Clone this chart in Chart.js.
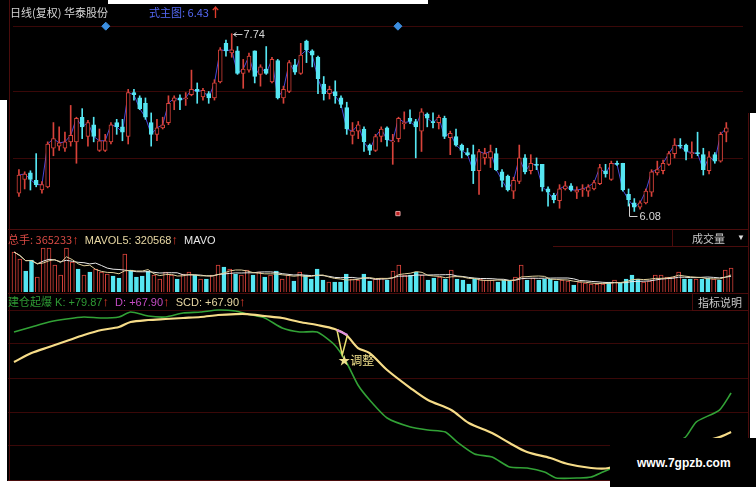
<!DOCTYPE html>
<html><head><meta charset="utf-8">
<script src="https://cdn.jsdelivr.net/npm/chart.js@4.4.1/dist/chart.umd.min.js"></script>
<style>
html,body{margin:0;padding:0;background:#000;}
#wrap{position:relative;width:756px;height:487px;background:#000;overflow:hidden;font-family:"Liberation Sans",Arial,sans-serif;font-size:11px;}
canvas{position:absolute;display:block;}
.t{position:absolute;white-space:nowrap;line-height:14px;font-size:11px;}
.cjk{font-family:"Noto Sans CJK SC","Liberation Sans",sans-serif;}
.ln{position:absolute;background:#4a0c0c;}
.wh{position:absolute;background:#fff;}
.up{color:#e03c2c;font-weight:bold;font-size:13px;}
</style></head><body>
<div id="wrap">
<canvas id="cPrice" width="740" height="228" style="left:8px;top:0px;width:740px;height:228px"></canvas>
<canvas id="cVol" width="740" height="62" style="left:8px;top:230px;width:740px;height:62px"></canvas>
<canvas id="cInd" width="740" height="185" style="left:8px;top:295px;width:740px;height:185px"></canvas>

<div class="ln" style="left:9px;top:0;width:1px;height:481px"></div>
<div class="ln" style="left:748px;top:113px;width:1px;height:368px"></div>
<div class="ln" style="left:8px;top:229px;width:741px;height:1px"></div>
<div class="ln" style="left:8px;top:293px;width:741px;height:1px"></div>
<div class="ln" style="left:553px;top:246px;width:195px;height:1px"></div>
<div class="ln" style="left:8px;top:480px;width:741px;height:1px"></div>

<div class="wh" style="left:108px;top:0;width:320px;height:4px"></div>
<div class="wh" style="left:0;top:100px;width:7px;height:387px"></div>
<div class="wh" style="left:750px;top:113px;width:6px;height:374px"></div>
<div class="wh" style="left:0;top:481px;width:756px;height:6px"></div>

<div class="t cjk" style="left:10px;top:5px;color:#d4d4d4">日线(复权) 华泰股份</div>
<div class="t cjk" style="left:149px;top:5px;color:#5468f4">式主图: 6.43<span class="up">↑</span></div>

<div class="t" style="left:8px;top:232px"><span class="cjk" style="color:#d84a44">总手: 365233</span><span class="up">↑</span>&nbsp;&nbsp;<span style="color:#e8d8a4">MAVOL5: 320568</span><span class="up">↑</span>&nbsp;&nbsp;<span style="color:#e8e8e8">MAVO</span></div>
<div style="position:absolute;left:672px;top:230px;width:76px;height:16px;border-left:1px solid #4a0c0c;"></div>
<div class="t cjk" style="left:692px;top:231px;color:#c8c8c8">成交量</div>
<div class="t" style="left:737px;top:231px;color:#ddd;font-size:8px">▼</div>

<div class="t" style="left:8px;top:294px"><span class="cjk" style="color:#2e9a34">建仓起爆</span> <span style="color:#2e9a34">K: +79.87</span><span class="up">↑</span>&nbsp;&nbsp;<span style="color:#c44cc4">D: +67.90</span><span class="up">↑</span>&nbsp;&nbsp;<span style="color:#e8d8a4">SCD: +67.90</span><span class="up">↑</span></div>
<div style="position:absolute;left:692px;top:294px;width:56px;height:16px;border-left:1px solid #4a0c0c;border-bottom:1px solid #4a0c0c;"></div>
<div class="t cjk" style="left:698px;top:295px;color:#c8c8c8">指标说明</div>

<div style="position:absolute;left:610px;top:438px;width:146px;height:49px;background:#000"></div>
<div class="t" style="left:637px;top:456px;color:#fff;font-weight:bold;font-size:12px">www.7gpzb.com</div>
</div>
<script>
// ---------- data ----------
const opens=[6.25,6.38,6.44,6.37,6.28,6.31,6.67,6.69,6.67,6.73,
6.73,6.96,6.78,6.89,6.65,6.65,6.73,6.91,6.87,6.78,
7.19,7.14,7.09,6.91,6.80,6.86,6.91,7.11,7.14,7.13,
7.17,7.22,7.15,7.18,7.14,7.29,7.65,7.56,7.58,7.37,
7.40,7.58,7.36,7.41,7.29,7.49,7.14,7.20,7.45,7.37,
7.67,7.58,7.52,7.27,7.18,7.20,7.14,7.05,6.79,6.83,
6.85,6.70,6.65,6.78,6.86,6.73,6.76,6.90,6.95,6.92,
6.83,6.99,6.92,6.91,6.95,6.77,6.78,6.70,6.63,6.61,
6.46,6.58,6.58,6.62,6.45,6.41,6.27,6.36,6.58,6.46,
6.52,6.52,6.29,6.23,6.18,6.29,6.32,6.26,6.28,6.27,
6.29,6.34,6.46,6.38,6.53,6.53,6.24,6.16,6.12,6.16,
6.26,6.44,6.46,6.52,6.62,6.70,6.70,6.62,6.63,6.61,
6.46,6.61,6.55,6.82];
const closes=[6.42,6.43,6.38,6.33,6.33,6.71,6.76,6.72,6.73,6.79,
6.95,6.87,6.91,6.78,6.74,6.74,6.89,6.87,6.82,7.19,
7.17,7.04,6.96,6.80,6.86,6.89,7.09,7.14,7.12,7.14,
7.22,7.20,7.21,7.14,7.28,7.59,7.58,7.59,7.37,7.41,
7.53,7.34,7.43,7.37,7.50,7.14,7.22,7.47,7.38,7.54,
7.59,7.54,7.32,7.18,7.22,7.16,7.08,6.85,6.83,6.89,
6.73,6.65,6.78,6.85,6.75,6.74,6.95,6.91,6.92,6.87,
7.01,6.95,6.91,6.96,6.78,6.81,6.70,6.65,6.61,6.46,
6.64,6.62,6.64,6.47,6.37,6.28,6.37,6.58,6.45,6.53,
6.51,6.31,6.26,6.19,6.29,6.32,6.28,6.28,6.29,6.31,
6.35,6.49,6.43,6.53,6.52,6.28,6.19,6.12,6.16,6.27,
6.45,6.47,6.53,6.62,6.70,6.69,6.64,6.63,6.62,6.47,
6.59,6.55,6.80,6.86];
const highs=[6.47,6.45,6.46,6.62,6.36,6.73,6.91,6.87,6.82,7.07,
6.96,7.04,6.93,6.96,6.85,6.80,6.91,6.94,6.94,7.22,
7.22,7.16,7.14,7.00,6.94,6.96,7.16,7.16,7.17,7.19,
7.40,7.28,7.23,7.20,7.31,7.61,7.68,7.74,7.62,7.50,
7.56,7.58,7.45,7.62,7.52,7.50,7.25,7.49,7.50,7.65,
7.68,7.59,7.53,7.34,7.25,7.30,7.16,7.10,6.91,6.92,
6.87,6.71,6.80,6.87,6.87,6.80,6.96,7.01,7.03,6.94,
7.04,7.00,7.00,6.98,6.97,6.83,6.85,6.71,6.67,6.70,
6.66,6.67,6.70,6.67,6.47,6.42,6.40,6.70,6.61,6.61,
6.58,6.52,6.31,6.25,6.33,6.36,6.34,6.31,6.33,6.33,
6.37,6.52,6.52,6.55,6.55,6.53,6.29,6.20,6.18,6.29,
6.47,6.55,6.56,6.64,6.76,6.76,6.71,6.73,6.82,6.67,
6.64,6.63,6.82,6.91];
const lows=[6.22,6.29,6.28,6.31,6.25,6.30,6.60,6.65,6.64,6.69,
6.53,6.76,6.69,6.73,6.64,6.64,6.71,6.80,6.74,6.71,
7.12,7.03,6.94,6.69,6.74,6.85,6.89,7.03,7.03,7.07,
7.16,7.09,7.12,7.09,7.12,7.28,7.53,7.52,7.36,7.23,
7.38,7.28,7.25,7.36,7.28,7.13,7.09,7.19,7.36,7.36,
7.47,7.43,7.18,7.12,7.13,7.09,7.05,6.80,6.71,6.76,
6.64,6.61,6.64,6.73,6.69,6.52,6.73,6.85,6.90,6.58,
6.64,6.87,6.86,6.85,6.76,6.61,6.69,6.58,6.60,6.34,
6.24,6.52,6.49,6.46,6.31,6.27,6.20,6.34,6.43,6.43,
6.47,6.27,6.13,6.16,6.11,6.28,6.27,6.20,6.22,6.22,
6.28,6.33,6.40,6.37,6.51,6.27,6.13,6.08,6.10,6.15,
6.22,6.42,6.43,6.51,6.58,6.67,6.56,6.58,6.60,6.42,
6.43,6.53,6.54,6.73];
const volumes=[608000,501600,319200,486400,228000,668800,668800,410400,258400,668800,
456000,349600,258400,304000,349600,304000,273600,243200,212800,577600,
334400,228000,243200,319200,258400,197600,304000,258400,197600,273600,
304000,258400,197600,197600,258400,410400,380000,349600,273600,258400,
334400,258400,304000,228000,258400,319200,197600,258400,167200,304000,
258400,197600,349600,182400,152000,152000,152000,273600,197600,182400,
273600,167200,197600,212800,182400,319200,410400,258400,258400,304000,
258400,182400,212800,228000,197600,334400,197600,182400,121600,197600,
197600,182400,182400,152000,182400,167200,228000,410400,182400,212800,
182400,197600,197600,167200,182400,167200,106400,152000,136800,121600,
121600,121600,152000,182400,136800,197600,258400,197600,152000,167200,
258400,258400,228000,228000,304000,197600,197600,197600,197600,212800,
197600,182400,334400,365233];
const signalIdx=[15.1,65.9];
const signalPrice=[7.81,7.81];
const markIdx=[65.9];
const markPrice=[6.06];
const priceGridLevels=[6.57,7.20,7.81];

const kIdx=[0,3,6,9,12,15,18,20,23,26,29,32,35,38,40,43,46,49,52,55,57,59,61,64,68,71,74,76,79,82,85,88,91,93,97,99,101,115,117,121,123];
const kVals=[98.59,100.12,101.66,102.58,103.19,102.89,103.19,104.73,103.50,103.19,104.42,104.73,105.34,105.04,104.11,102.89,99.82,98.59,98.59,94.60,89.38,82.32,77.72,72.19,69.43,68.51,67.90,64.83,61.16,60.23,57.16,56.85,55.63,53.79,53.79,54.09,55.63,66.06,70.97,74.65,79.87];
const dIdx=[0,3,6,9,12,15,18,20,23,26,29,32,35,38,40,43,46,49,52,55,57,59,61,64,68,71,75,78,82,85,88,92,95,99,102,121,123];
const dVals=[89.38,92.14,93.98,95.83,97.67,99.20,100.12,101.66,102.27,102.58,102.89,103.19,103.81,104.11,104.11,103.50,102.89,101.66,100.74,99.51,97.67,93.68,92.14,86.93,81.40,77.72,74.65,70.66,67.60,64.53,61.76,59.92,58.08,56.85,56.85,66.36,67.90];
const adjustIdx=[55.4,56.3,57.2];
const adjustVals=[99.20,91.53,97.67];
const pinkIdx=[55.4,57.2];
const pinkVals=[99.20,97.67];
const indGridLevels=[63.75,74.04,84.47,95.21,105.34];

// ---------- styling ----------
const RED='#d8423a', CYAN='#56e6f2', GRID='#3a0808';
const XMIN=-1.03, XMAX=125.9;
Chart.defaults.animation=false;
Chart.defaults.font.family='"Liberation Sans", Arial, sans-serif';
const n=opens.length;
const isUp=i=>closes[i]>=opens[i];
const xAxis={type:'linear',min:XMIN,max:XMAX,display:false,offset:false};
function yAxis(min,max,levels){
  return {min:min,max:max,display:true,position:'left',
    ticks:{display:false},border:{display:false},
    grid:{color:GRID,drawTicks:false,lineWidth:1},
    afterBuildTicks:s=>{s.ticks=levels.map(v=>({value:v}));}};
}
const baseOpts={responsive:false,devicePixelRatio:1,layout:{padding:0},
  plugins:{legend:{display:false},tooltip:{enabled:false}},events:[]};

// ---------- price chart ----------
const idx=[...Array(n).keys()];
const priceNotes={id:'priceNotes',afterDatasetsDraw(c){
  const ctx=c.ctx,x=c.scales.x,y=c.scales.y;
  let hi=0,lo=0;
  highs.forEach((v,i)=>{if(v>highs[hi])hi=i;});
  lows.forEach((v,i)=>{if(v<lows[lo])lo=i;});
  ctx.save();ctx.strokeStyle='#cfcfcf';ctx.fillStyle='#d8d8d8';ctx.lineWidth=1;
  ctx.font='11px "Liberation Sans"';ctx.textBaseline='middle';
  let px=Math.round(x.getPixelForValue(hi))+1.5, py=Math.round(y.getPixelForValue(highs[hi]))+0.5;
  ctx.beginPath();ctx.moveTo(px,py);ctx.lineTo(px+9,py);ctx.moveTo(px+3,py-2);ctx.lineTo(px,py);ctx.lineTo(px+3,py+2);ctx.stroke();
  ctx.fillText(highs[hi].toFixed(2),px+10,py);
  px=Math.round(x.getPixelForValue(lo))-4.5; py=Math.round(y.getPixelForValue(lows[lo]))+0.5;
  ctx.beginPath();ctx.moveTo(px,py-8);ctx.lineTo(px,py+5);ctx.lineTo(px+8,py+5);ctx.stroke();
  ctx.fillText(lows[lo].toFixed(2),px+10,py+5);
  ctx.restore();
}};
new Chart(document.getElementById('cPrice'),{
  type:'bar',
  data:{datasets:[
    {type:'line',order:1,data:signalIdx.map((v,i)=>({x:v,y:signalPrice[i]})),showLine:false,
     pointStyle:'rectRot',pointRadius:4,pointBackgroundColor:'#3b8ee0',pointBorderColor:'#3b8ee0'},
    {type:'line',order:1,data:markIdx.map((v,i)=>({x:v,y:markPrice[i]})),showLine:false,
     pointStyle:'rect',pointRadius:3,pointBackgroundColor:'#c02020',pointBorderColor:'#e0a0a0',pointBorderWidth:1},
    {type:'bar',order:3,grouped:false,barThickness:4,minBarLength:1,borderWidth:1,borderSkipped:false,
     data:idx.map(i=>({x:i,y:[opens[i],closes[i]]})),
     backgroundColor:idx.map(i=>isUp(i)?'#000':CYAN),borderColor:idx.map(i=>isUp(i)?RED:CYAN)},
    {type:'bar',order:4,grouped:false,barThickness:1,borderWidth:0,
     data:idx.map(i=>({x:i,y:[lows[i],highs[i]]})),
     backgroundColor:idx.map(i=>isUp(i)?RED:CYAN)},
    {type:'line',order:5,data:idx.map(i=>({x:i,y:closes[i]})),borderColor:'#4848d8',borderWidth:1,pointRadius:0,tension:0}
  ]},
  options:Object.assign({},baseOpts,{scales:{x:xAxis,y:yAxis(5.972,8.008,priceGridLevels)}}),
  plugins:[priceNotes]
});

// ---------- volume chart ----------
function movingAvg(arr,p){return arr.map((_,i)=>{const s=Math.max(0,i-p+1);let t=0;for(let j=s;j<=i;j++)t+=arr[j];return t/(i-s+1);});}
const ma5=movingAvg(volumes,5), ma10=movingAvg(volumes,10);
new Chart(document.getElementById('cVol'),{
  type:'bar',
  data:{datasets:[
    {type:'line',order:1,data:idx.map(i=>({x:i,y:ma5[i]})),borderColor:'#e0cf9a',borderWidth:1,pointRadius:0},
    {type:'line',order:1,data:idx.map(i=>({x:i,y:ma10[i]})),borderColor:'#e8e8e8',borderWidth:1,pointRadius:0},
    {type:'bar',order:3,grouped:false,barThickness:4,borderWidth:1,borderSkipped:'start',
     data:idx.map(i=>({x:i,y:volumes[i]})),
     backgroundColor:idx.map(i=>isUp(i)?'#000':CYAN),borderColor:idx.map(i=>isUp(i)?RED:CYAN)}
  ]},
  options:Object.assign({},baseOpts,{scales:{x:xAxis,y:yAxis(0,942400,[])}})
});

// ---------- indicator chart ----------
const indNotes={id:'indNotes',afterDatasetsDraw(c){
  const ctx=c.ctx;
  const px=c.scales.x.getPixelForValue(adjustIdx[1]), py=c.scales.y.getPixelForValue(adjustVals[1]);
  ctx.save();ctx.fillStyle='#f0e08c';ctx.font='12px "Noto Sans CJK SC"';ctx.textBaseline='middle';
  ctx.fillText('★调整',px-4,py+5);ctx.restore();
}};
new Chart(document.getElementById('cInd'),{
  type:'line',
  data:{datasets:[
    {order:1,data:pinkIdx.map((v,i)=>({x:v,y:pinkVals[i]})),borderColor:'#e090e0',borderWidth:2,pointRadius:0},
    {order:2,data:adjustIdx.map((v,i)=>({x:v,y:adjustVals[i]})),borderColor:'#e8e070',borderWidth:1.5,pointRadius:0},
    {order:3,data:dIdx.map((v,i)=>({x:v,y:dVals[i]})),borderColor:'#f6dc88',borderWidth:2.2,pointRadius:0,tension:0.3},
    {order:4,data:kIdx.map((v,i)=>({x:v,y:kVals[i]})),borderColor:'#32a236',borderWidth:1.6,pointRadius:0,tension:0.2}
  ]},
  options:Object.assign({},baseOpts,{scales:{x:xAxis,y:yAxis(53.17,109.95,indGridLevels)}}),
  plugins:[indNotes]
});
</script>
</body></html>
